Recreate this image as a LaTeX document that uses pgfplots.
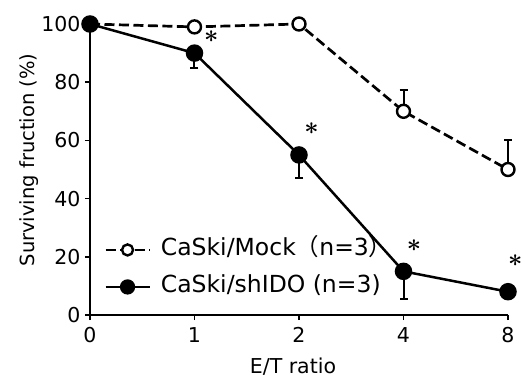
\documentclass[border=0pt]{standalone}
\usepackage{pgfplots}
\pgfplotsset{compat=1.18}
\usepackage{fontspec}
\setmainfont{DejaVu Sans}
\newfontfamily\cjk{Noto Sans CJK JP}
\DeclareRobustCommand{\bast}{\mbox{\boldmath$\ast$}}
\begin{document}
\begin{tikzpicture}[x=1pt,y=1pt]
\begin{axis}[
  at={(0pt,0pt)}, anchor=origin,
  scale only axis, width=418pt, height=291pt,
  xmin=0, xmax=4, ymin=0, ymax=100,
  axis x line=bottom, axis y line=left,
  axis line style={line width=2.6pt, -},
  xtick={0,1,2,3,4}, xticklabels={0,1,2,4,8},
  ytick={0,20,40,60,80,100},
  tick align=outside, major tick length=5pt,
  tick style={line width=1.6pt, black},
  font=\fontsize{20.5}{24}\selectfont,
  /pgf/number format/assume math mode=true,
  xticklabel style={yshift=-4pt},
  yticklabel style={xshift=-1pt},
  ylabel={Surviving fruction (\%)},
  xlabel={E/T ratio},
  ylabel style={at={(axis description cs:0,0.533)}, anchor=south, yshift=48pt, font=\fontsize{19.5}{22}\selectfont},
  xlabel style={at={(axis description cs:0.5,0)}, anchor=base, yshift=-58pt, xshift=-6pt},
  clip=false,
  legend style={at={(axis cs:0.134,16)}, anchor=west, draw=none, fill=none,
    font=\fontsize{23.5}{26}\selectfont, inner sep=0pt, row sep=16pt, column sep=10pt,
    nodes={inner sep=0pt, text height=16pt, text depth=5pt}},
  legend cell align=left,
  legend image code/.code={\draw[mark repeat=2,mark phase=2,#1,every mark/.append style={scale=0.85}] plot coordinates {(0pt,0pt)(22pt,0pt)(44pt,0pt)};},
]
\addplot[black, line width=2.7pt, dash pattern=on 10pt off 4.5pt,
  mark=*, mark size=6.5pt, mark options={solid, fill=white, line width=2.4pt},
  error bars/.cd, y dir=plus, y explicit,
  error bar style={line width=2pt, solid}, error mark options={rotate=90, mark size=4pt, line width=2pt}]
  coordinates {(0,100) +- (0,0) (1,99) +- (0,0) (2,100) +- (0,0) (3,70) +- (0,7.3) (4,50) +- (0,10)};
\addlegendentry{CaSki/Mock{\cjk（}n=3{\cjk）}}
\addplot[black, line width=2.5pt,
  mark=*, mark size=7.5pt, mark options={solid, fill=black},
  error bars/.cd, y dir=minus, y explicit,
  error bar style={line width=2pt, solid}, error mark options={rotate=90, mark size=4pt, line width=2pt}]
  coordinates {(0,100) +- (0,0) (1,90) +- (0,5) (2,55) +- (0,8) (3,15) +- (0,9.5) (4,8) +- (0,0)};
\addlegendentry{CaSki/shIDO (n=3)}
\node[font=\fontsize{26}{26}\selectfont, inner sep=0pt] at (axis cs:1.16,95.5) {\bast};
\node[font=\fontsize{26}{26}\selectfont, inner sep=0pt] at (axis cs:2.12,64) {\bast};
\node[font=\fontsize{26}{26}\selectfont, inner sep=0pt] at (axis cs:3.10,24) {\bast};
\node[font=\fontsize{26}{26}\selectfont, inner sep=0pt] at (axis cs:4.07,18.6) {\bast};
\end{axis}
\useasboundingbox (-90,-65) rectangle (435,315);
\end{tikzpicture}
\end{document}
